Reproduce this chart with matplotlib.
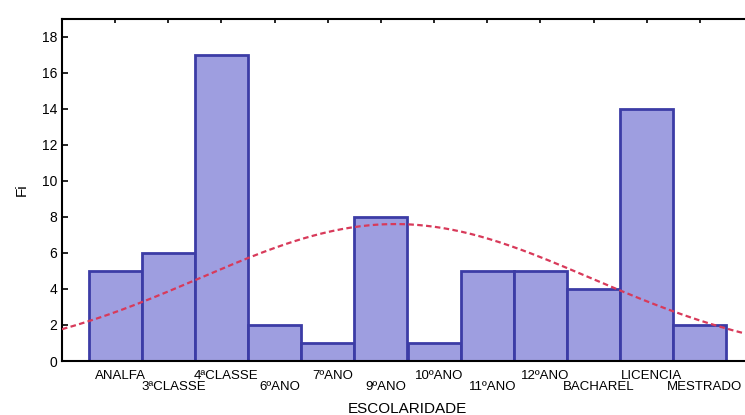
import numpy as np
import matplotlib.pyplot as plt
from matplotlib.transforms import ScaledTranslation

plt.rcParams['font.family'] = ['Liberation Sans', 'DejaVu Sans']

categorias = ['ANALFA', '3ªCLASSE', '4ªCLASSE', '6ºANO', '7ºANO', '9ºANO',
              '10ºANO', '11ºANO', '12ºANO', 'BACHAREL', 'LICENCIA', 'MESTRADO']
fi = np.array([5, 6, 17, 2, 1, 8, 1, 5, 5, 4, 14, 2])
y_ticks = [0, 2, 4, 6, 8, 10, 12, 14, 16, 18]

x = np.arange(len(categorias))

# expected normal curve from the frequencies (as Statistica draws it)
n = fi.sum()
media = (x * fi).sum() / n
dp = np.sqrt(((x - media) ** 2 * fi).sum() / (n - 1))

fig = plt.figure(figsize=(7.45, 4.15), dpi=100)
ax = fig.add_axes([62/745, 1 - 361/415, (753 - 62)/745, (361 - 19)/415])

ax.bar(x, fi, width=1.0, color='#9e9ee0', edgecolor='#3c3ca6', linewidth=2, zorder=2)

xs = np.linspace(-1, 12, 300)
curva = n / (dp * np.sqrt(2 * np.pi)) * np.exp(-0.5 * ((xs - media) / dp) ** 2)
ax.plot(xs, curva, color='#d83a5a', lw=1.6, ls=(0, (2.5, 1.5)), zorder=3)

ax.set_xlim(-1, 12)
ax.set_ylim(0, 19)
ax.set_yticks(y_ticks)
ax.set_xticks(x)
ax.set_xticklabels([''] * len(x))
ax.tick_params(axis='y', direction='in', length=4, labelsize=10, width=1.2)
ax.tick_params(axis='x', direction='in', length=3, top=True, width=1.2)
for s in ax.spines.values():
    s.set_linewidth(1.5)

off = ScaledTranslation(5/100, 0, fig.dpi_scale_trans)
for i, lab in enumerate(categorias):
    yy = -0.045 if i % 2 == 0 else -0.075
    ax.text(i, yy, lab, transform=ax.get_xaxis_transform() + off,
            ha='center', va='center', fontsize=9.5)

ax.set_ylabel('Fi', fontsize=11, labelpad=9)
ax.set_xlabel('ESCOLARIDADE', fontsize=11, labelpad=26)

plt.savefig('out.png', dpi=100)
